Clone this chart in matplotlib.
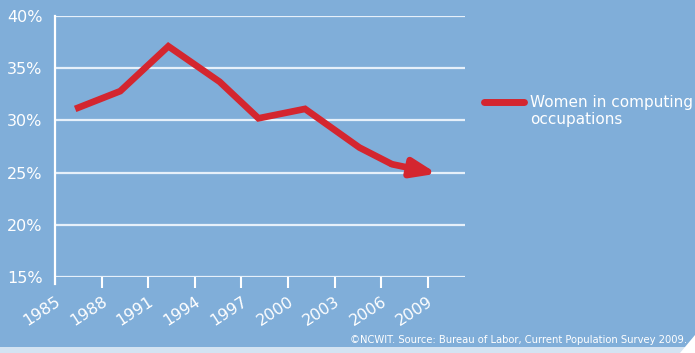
import matplotlib.pyplot as plt
from matplotlib.patches import Polygon

BG = "#80aed9"
RED = "#d4262f"
WHITE = "#ffffff"

# data
years = [1986.3, 1989.2, 1992.3, 1995.6, 1998.1, 2001.1, 2004.6, 2006.7]
share = [31.1, 32.8, 37.1, 33.7, 30.2, 31.1, 27.4, 25.8]
arrow_end = (2009.6, 24.9)

tick_years = [1985, 1988, 1991, 1994, 1997, 2000, 2003, 2006, 2009]
tick_pcts = [15, 20, 25, 30, 35, 40]

plt.rcParams["font.family"] = ["DejaVu Sans"]

fig = plt.figure(figsize=(6.95, 3.53), dpi=100)
fig.patch.set_facecolor(BG)
ax = fig.add_axes([0.0791, 0.2153, 0.59, 0.7394])
ax.set_facecolor(BG)

ax.set_xlim(1985, 2011.4)
ax.set_ylim(15, 40)

for p in tick_pcts:
    ax.axhline(p, color="#e6f0fa", lw=1.6, zorder=1)

ax.plot(years, share, color=RED, lw=4.8, solid_joinstyle="miter",
        solid_capstyle="butt", zorder=3)
ax.annotate("", xy=arrow_end, xytext=(years[-1], share[-1]),
            arrowprops=dict(arrowstyle="-|>,head_length=1.45,head_width=0.55",
                            color=RED, lw=4.8, shrinkA=0, shrinkB=0),
            zorder=3)

for s in ["top", "right", "bottom"]:
    ax.spines[s].set_visible(False)
ax.spines["left"].set_color(WHITE)
ax.spines["left"].set_linewidth(1.6)
ax.spines["left"].set_bounds(14.3, 40)

ax.set_yticks(tick_pcts)
ax.set_yticklabels([f"{p}%" for p in tick_pcts])
ax.set_xticks(tick_years)
ax.set_xticklabels([str(y) for y in tick_years], rotation=33, ha="right",
                   rotation_mode="anchor")
ax.tick_params(axis="y", colors=WHITE, labelsize=11.5, length=0, pad=9)
ax.tick_params(axis="x", colors=WHITE, labelsize=11.5, length=8, width=1.5, pad=4)
ax.xaxis.get_major_ticks()[0].tick1line.set_visible(False)

# legend drawn by hand to match the layout
fig.add_artist(plt.Line2D([484 / 695, 524 / 695], [1 - 102 / 353] * 2,
                          color=RED, lw=5, solid_capstyle="round"))
fig.text(530 / 695, 1 - 95 / 353, "Women in computing\noccupations",
         color=WHITE, fontsize=11, va="top", ha="left", linespacing=1.15)

fig.text(687 / 695, 1 - 340 / 353,
         "\u00a9NCWIT. Source: Bureau of Labor, Current Population Survey 2009.",
         color=WHITE, fontsize=7.2, ha="right", va="center")

# light strip and corner at the bottom
fig.add_artist(Polygon([[0, 0], [1, 0], [1, 6 / 353], [0, 6 / 353]],
                       closed=True, transform=fig.transFigure,
                       facecolor="#d3e3f2", edgecolor="none"))
fig.add_artist(Polygon([[680 / 695, 0], [1, 0], [1, 18 / 353]],
                       closed=True, transform=fig.transFigure,
                       facecolor=WHITE, edgecolor="none"))

fig.savefig("out.png", dpi=100, facecolor=BG)
